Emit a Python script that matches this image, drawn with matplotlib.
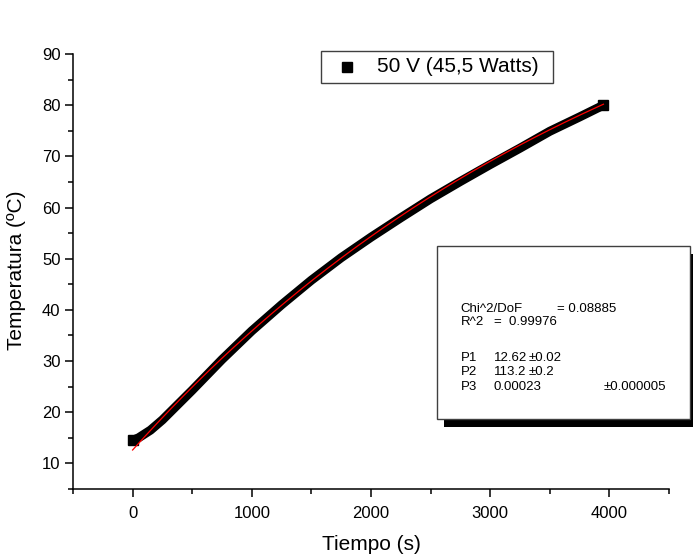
import numpy as np
import matplotlib
matplotlib.use("Agg")
import matplotlib.pyplot as plt
from matplotlib.patches import Rectangle
from matplotlib.lines import Line2D
from matplotlib.ticker import MultipleLocator

plt.rcParams["font.family"] = ["Liberation Sans", "DejaVu Sans"]

tiempo = [0, 50, 150, 250, 500, 750, 1000, 1250, 1500, 1750, 2000,
          2250, 2500, 2750, 3000, 3250, 3500, 3750, 3950]
temperatura = [14.5, 15.0, 16.5, 18.5, 24.3, 30.3, 35.9, 41.0, 45.8, 50.2, 54.2,
               58.0, 61.7, 65.1, 68.4, 71.6, 74.9, 77.7, 80.0]

# Fit parameters shown in the box
P1, P2, P3 = 12.62, 113.2, 0.00023
fit_range = (0, 3950)

W, H = 693, 559
fig = plt.figure(figsize=(W / 100, H / 100), dpi=100)

def px(x0, y0, x1, y1):
    # pixel box (top-left origin) -> figure fraction rect
    return [x0 / W, 1 - y1 / H, (x1 - x0) / W, (y1 - y0) / H]

ax = fig.add_axes(px(73, 54, 669, 489))

# data band: dense black squares drawn as a thick line, squares at the ends
ax.plot(tiempo, temperatura, color="black", lw=6.5, marker="s", ms=7,
        markevery=[0, len(tiempo) - 1], solid_capstyle="butt",
        solid_joinstyle="round", zorder=2)

# fit curve
t_fit = np.linspace(fit_range[0], fit_range[1], 300)
ax.plot(t_fit, P1 + P2 * (1 - np.exp(-P3 * t_fit)), color="red", lw=0.9, zorder=3)

ax.set_xlim(-500, 4500)
ax.set_ylim(5, 90)
ax.xaxis.set_major_locator(MultipleLocator(1000))
ax.xaxis.set_minor_locator(MultipleLocator(500))
ax.yaxis.set_major_locator(MultipleLocator(10))
ax.yaxis.set_minor_locator(MultipleLocator(5))

for s in ("top", "right"):
    ax.spines[s].set_visible(False)
for s in ("left", "bottom"):
    ax.spines[s].set_linewidth(1.1)

ax.tick_params(which="major", direction="out", length=6, width=1.1,
               labelsize=12, pad=3)
ax.tick_params(which="minor", direction="out", length=3.5, width=1.1)
ax.tick_params(axis="x", which="major", pad=6)

fig.text(371 / W, 1 - 545 / H, "Tiempo (s)", fontsize=15, ha="center", va="center")
fig.text(17 / W, 1 - 270 / H, "Temperatura (ºC)", fontsize=15, ha="center",
         va="center", rotation=90)

# legend box
fig.patches.append(Rectangle((320.7 / W, 1 - 83.3 / H), 232 / W, 32.6 / H,
                             transform=fig.transFigure, fill=True, fc="white",
                             ec="#404040", lw=1.0, zorder=5))
fig.add_artist(Line2D([346.7 / W], [1 - 67 / H], marker="s", ms=7, color="black",
                      ls="none", transform=fig.transFigure, zorder=6))
fig.text(376.7 / W, 1 - 67 / H, "50 V (45,5 Watts)", fontsize=15, va="center",
         zorder=6)

# fit result box with shadow
bx0, by0, bx1, by1 = 437, 246, 690, 419
fig.patches.append(Rectangle(((bx0 + 7) / W, 1 - (by1 + 8) / H), (bx1 - bx0) / W,
                             (by1 - by0) / H, transform=fig.transFigure,
                             fc="black", ec="black", lw=0, zorder=5))
fig.patches.append(Rectangle((bx0 / W, 1 - by1 / H), (bx1 - bx0) / W,
                             (by1 - by0) / H, transform=fig.transFigure,
                             fc="white", ec="#404040", lw=1.0, zorder=6))

fs = 9.5
rows = [
    (460.7, 308.5, "Chi^2/DoF"), (557, 308.5, "= 0.08885"),
    (460.7, 322, "R^2"), (494, 322, "=  0.99976"),
    (460.7, 358, "P1"), (494, 358, "12.62"), (529, 358, "±0.02"),
    (460.7, 372, "P2"), (494, 372, "113.2"), (529, 372, "±0.2"),
    (460.7, 387, "P3"), (494, 387, "0.00023"), (604, 387, "±0.000005"),
]
for x, y, s in rows:
    fig.text(x / W, 1 - y / H, s, fontsize=fs, va="center", zorder=7)

fig.savefig("out.png", dpi=100)
